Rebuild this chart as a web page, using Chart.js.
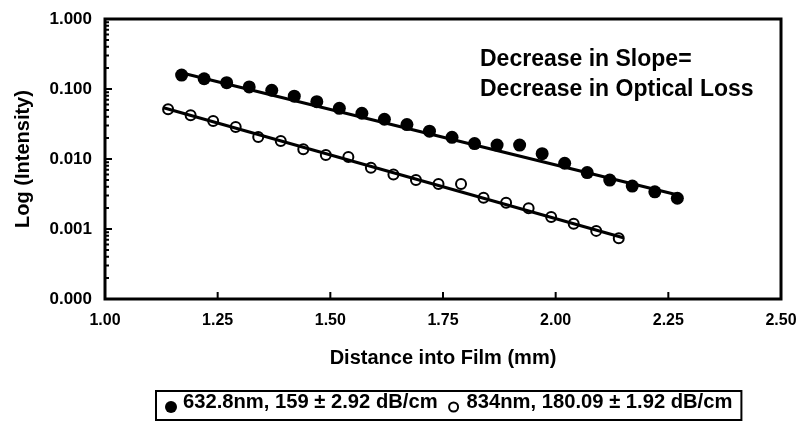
<!DOCTYPE html>
<html>
<head>
<meta charset="utf-8">
<title>Log (Intensity) vs Distance into Film</title>
<script src="https://cdn.jsdelivr.net/npm/chart.js@4.4.1/dist/chart.umd.min.js"></script>
<style>
  body { margin: 0; background: #fff; }
  #wrap { width: 802px; height: 427px; }
</style>
</head>
<body>
<div id="wrap"><canvas id="lossChart" width="802" height="427"></canvas></div>
<script>
// data
const filledX = [1.17, 1.22, 1.27, 1.32, 1.37, 1.42, 1.47, 1.52, 1.57, 1.62, 1.67, 1.72,
                 1.77, 1.82, 1.87, 1.92, 1.97, 2.02, 2.07, 2.12, 2.17, 2.22, 2.27];
const filledY = [0.158, 0.140, 0.123, 0.107, 0.096, 0.079, 0.066, 0.053, 0.045, 0.037, 0.031, 0.025,
                 0.0204, 0.0166, 0.0158, 0.0158, 0.0119, 0.0087, 0.0064, 0.0050, 0.0041, 0.0034, 0.00275];
const openX = [1.14, 1.19, 1.24, 1.29, 1.34, 1.39, 1.44, 1.49, 1.54, 1.59, 1.64,
               1.69, 1.74, 1.79, 1.84, 1.89, 1.94, 1.99, 2.04, 2.09, 2.14];
const openY = [0.0513, 0.0421, 0.0349, 0.0287, 0.0206, 0.0181, 0.0138, 0.0114, 0.0107, 0.0075, 0.0060,
               0.0050, 0.0044, 0.0044, 0.0028, 0.00238, 0.00198, 0.00148, 0.00119, 0.00094, 0.00074];
// fitted lines (end points)
const fitFilledX = [1.16, 2.28];
const fitFilledY = [0.176, 0.00296];
const fitOpenX = [1.13, 2.15];
const fitOpenY = [0.054, 0.00075];

const xTicks = [1.00, 1.25, 1.50, 1.75, 2.00, 2.25, 2.50];
const yTicks = [0.0001, 0.001, 0.01, 0.1, 1];

const seriesLabels = ['632.8nm, 159 \u00b1 2.92 dB/cm', '834nm, 180.09 \u00b1 1.92 dB/cm'];
const noteLines = ['Decrease in Slope=', 'Decrease in Optical Loss'];

const FONT = '"Liberation Sans", Arial, Helvetica, sans-serif';

const toPoints = (xs, ys) => xs.map((x, i) => ({ x: x, y: ys[i] }));

// frame, inward ticks, note text and legend box
const decorPlugin = {
  id: 'decor',
  afterDatasetsDraw(chart) {
    const ctx = chart.ctx;
    const area = chart.chartArea;
    const xs = chart.scales.x;
    const ys = chart.scales.y;
    ctx.save();
    ctx.strokeStyle = '#000';

    // tick marks pointing into the plot
    ctx.lineWidth = 2;
    ctx.beginPath();
    xTicks.forEach(v => {
      const px = xs.getPixelForValue(v);
      ctx.moveTo(px, area.bottom);
      ctx.lineTo(px, area.bottom - 7);
    });
    for (let e = -4; e < 0; e++) {
      for (let m = 1; m <= 9; m++) {
        const py = ys.getPixelForValue(m * Math.pow(10, e));
        ctx.moveTo(area.left, py);
        ctx.lineTo(area.left + (m === 1 ? 7 : 4), py);
      }
    }
    ctx.stroke();

    // frame
    ctx.lineWidth = 3;
    ctx.strokeRect(area.left, area.top, area.right - area.left, area.bottom - area.top);

    // note
    ctx.fillStyle = '#000';
    ctx.font = 'bold 23px ' + FONT;
    ctx.textBaseline = 'alphabetic';
    ctx.textAlign = 'left';
    ctx.fillText(noteLines[0], 480, 66);
    ctx.fillText(noteLines[1], 480, 96);

    // legend
    ctx.font = 'bold 20.2px ' + FONT;
    const baseY = 408;
    let cx = 171;
    ctx.beginPath();
    ctx.arc(cx, 407, 6, 0, Math.PI * 2);
    ctx.fill();
    let tx = 183;
    ctx.fillText(seriesLabels[0], tx, baseY);
    cx = tx + ctx.measureText(seriesLabels[0]).width + 16;
    ctx.lineWidth = 2;
    ctx.beginPath();
    ctx.arc(cx, 407, 4.5, 0, Math.PI * 2);
    ctx.stroke();
    tx = cx + 13;
    ctx.fillText(seriesLabels[1], tx, baseY);
    const boxRight = tx + ctx.measureText(seriesLabels[1]).width + 9;
    ctx.lineWidth = 2;
    ctx.strokeRect(156, 391, boxRight - 156, 29);
    ctx.restore();
  }
};

const ctx = document.getElementById('lossChart').getContext('2d');
const lossChart = new Chart(ctx, {
  type: 'scatter',
  data: {
    datasets: [
      {
        label: seriesLabels[0],
        data: toPoints(filledX, filledY),
        pointStyle: 'circle',
        pointRadius: 6.5,
        pointBackgroundColor: '#000',
        pointBorderColor: '#000',
        pointBorderWidth: 0
      },
      {
        label: seriesLabels[1],
        data: toPoints(openX, openY),
        pointStyle: 'circle',
        pointRadius: 5,
        pointBackgroundColor: 'rgba(0,0,0,0)',
        pointBorderColor: '#000',
        pointBorderWidth: 2
      },
      {
        label: 'fit 632.8nm',
        data: toPoints(fitFilledX, fitFilledY),
        showLine: true,
        pointRadius: 0,
        borderColor: '#000',
        borderWidth: 3
      },
      {
        label: 'fit 834nm',
        data: toPoints(fitOpenX, fitOpenY),
        showLine: true,
        pointRadius: 0,
        borderColor: '#000',
        borderWidth: 3
      }
    ]
  },
  options: {
    responsive: false,
    animation: false,
    layout: { padding: { top: 19, right: 21, bottom: 57, left: 0 } },
    plugins: {
      legend: { display: false },
      tooltip: { enabled: false }
    },
    scales: {
      x: {
        type: 'linear',
        min: 1,
        max: 2.5,
        afterFit: scale => {
          scale.height = 71;
          scale.paddingLeft = 0;
          scale.paddingRight = 0;
        },
        afterBuildTicks: scale => { scale.ticks = xTicks.map(v => ({ value: v })); },
        grid: { display: false, drawTicks: false },
        border: { display: false },
        ticks: {
          autoSkip: false,
          maxRotation: 0,
          padding: 12,
          color: '#000',
          font: { family: FONT, size: 16, weight: 'bold' },
          callback: v => Number(v).toFixed(2)
        },
        title: {
          display: true,
          text: 'Distance into Film (mm)',
          color: '#000',
          font: { family: FONT, size: 20, weight: 'bold' },
          padding: { top: 0, bottom: 0 }
        }
      },
      y: {
        type: 'logarithmic',
        min: 0.0001,
        max: 1,
        afterFit: scale => {
          scale.width = 105;
          scale.paddingTop = 0;
          scale.paddingBottom = 0;
        },
        afterBuildTicks: scale => { scale.ticks = yTicks.map(v => ({ value: v })); },
        grid: { display: false, drawTicks: false },
        border: { display: false },
        ticks: {
          autoSkip: false,
          padding: 13,
          color: '#000',
          font: { family: FONT, size: 17, weight: 'bold' },
          callback: v => Number(v).toFixed(3)
        },
        title: {
          display: true,
          text: 'Log (Intensity)',
          color: '#000',
          font: { family: FONT, size: 20, weight: 'bold' },
          padding: { top: 11, bottom: 0 }
        }
      }
    }
  },
  plugins: [decorPlugin]
});
</script>
</body>
</html>
